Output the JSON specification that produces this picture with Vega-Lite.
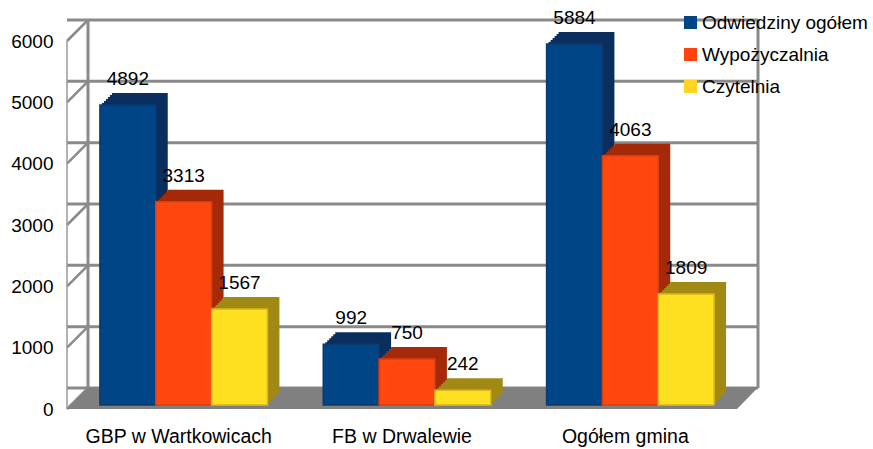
{"$schema":"https://vega.github.io/schema/vega-lite/v6.json","width":670,"height":368,"autosize":"none","padding":{"left":67,"top":41,"right":136,"bottom":40},"background":"white","config":{"view":{"stroke":null},"font":"Liberation Sans","numberFormat":"d","axis":{"grid":false},"axisY":{"tickCount":7,"ticks":false,"domain":false,"labelFontSize":19,"labelColor":"#000","labelPadding":14,"labelFont":"Liberation Sans"}},"datasets":{"bars":[{"miejsce":"GBP w Wartkowicach","seria":"Odwiedziny ogółem","v":4892},{"miejsce":"GBP w Wartkowicach","seria":"Wypożyczalnia","v":3313},{"miejsce":"GBP w Wartkowicach","seria":"Czytelnia","v":1567},{"miejsce":"FB w Drwalewie","seria":"Odwiedziny ogółem","v":992},{"miejsce":"FB w Drwalewie","seria":"Wypożyczalnia","v":750},{"miejsce":"FB w Drwalewie","seria":"Czytelnia","v":242},{"miejsce":"Ogółem gmina","seria":"Odwiedziny ogółem","v":5884},{"miejsce":"Ogółem gmina","seria":"Wypożyczalnia","v":4063},{"miejsce":"Ogółem gmina","seria":"Czytelnia","v":1809}],"ticks":[{"t":0},{"t":1000},{"t":2000},{"t":3000},{"t":4000},{"t":5000},{"t":6000}]},"layer":[{"layer":[{"data":{"name":"ticks"},"encoding":{"y":{"field":"t","type":"quantitative","title":null,"scale":{"domain":[0,6000],"nice":false}}},"mark":{"type":"rule","color":"#8a8a8a","strokeWidth":3,"xOffset":21,"x2Offset":21,"yOffset":-21,"y2Offset":-21}},{"data":{"values":[{"t":0,"d":0,"d2":21},{"t":1000,"d":0,"d2":21},{"t":2000,"d":0,"d2":21},{"t":3000,"d":0,"d2":21},{"t":4000,"d":0,"d2":21},{"t":5000,"d":0,"d2":21},{"t":6000,"d":0,"d2":21}]},"encoding":{"x":{"field":"d","type":"quantitative","scale":{"domain":[0,670],"nice":false},"axis":null},"x2":{"field":"d2"},"y":{"field":"t","type":"quantitative","title":null},"y2":{"field":"t"}},"mark":{"type":"rule","color":"#8a8a8a","strokeWidth":2.5,"y2Offset":-21}},{"data":{"values":[{"d":21,"a":0,"b":6000},{"d":691,"a":0,"b":6000}]},"encoding":{"x":{"field":"d","type":"quantitative","axis":null},"y":{"field":"a","type":"quantitative","title":null},"y2":{"field":"b"}},"mark":{"type":"rule","color":"#8a8a8a","strokeWidth":3,"yOffset":-21,"y2Offset":-21}},{"data":{"values":[{"d":0,"a":0,"b":6000}]},"encoding":{"x":{"field":"d","type":"quantitative","axis":null},"y":{"field":"a","type":"quantitative","title":null},"y2":{"field":"b"}},"mark":{"type":"rule","color":"#9a9a9a","strokeWidth":1.5}},{"data":{"values":[{"d":0,"lo":0,"hi":0},{"d":21,"lo":0,"hi":350},{"d":670,"lo":0,"hi":350},{"d":691,"lo":350,"hi":350}]},"encoding":{"x":{"field":"d","type":"quantitative","axis":null},"y":{"field":"lo","type":"quantitative","title":null},"y2":{"field":"hi"}},"mark":{"type":"area","color":"#808080","interpolate":"linear"}}]},{"data":{"name":"bars"},"transform":[{"calculate":"datum.miejsce + ' / ' + datum.seria","as":"slot"}],"encoding":{"x":{"field":"slot","type":"nominal","scale":{"domain":["GBP w Wartkowicach / Odwiedziny ogółem","GBP w Wartkowicach / Wypożyczalnia","GBP w Wartkowicach / Czytelnia","odstęp 1","FB w Drwalewie / Odwiedziny ogółem","FB w Drwalewie / Wypożyczalnia","FB w Drwalewie / Czytelnia","odstęp 2","Ogółem gmina / Odwiedziny ogółem","Ogółem gmina / Wypożyczalnia","Ogółem gmina / Czytelnia"],"paddingInner":0,"paddingOuter":0.5},"axis":{"title":null,"values":["GBP w Wartkowicach / Wypożyczalnia","FB w Drwalewie / Wypożyczalnia","Ogółem gmina / Wypożyczalnia"],"labelExpr":"split(datum.label,' / ')[0]","labelAngle":0,"ticks":false,"domain":false,"labelFontSize":19.5,"labelColor":"#000","labelPadding":18,"labelLimit":300,"labelOverlap":false,"labelFont":"Liberation Sans"}},"y":{"field":"v","type":"quantitative","title":null}},"layer":[{"transform":[{"filter":"datum.seria==='Odwiedziny ogółem'"}],"layer":[{"mark":{"type":"bar","color":"#0a2f5e","xOffset":17,"x2Offset":17,"yOffset":-16,"y2Offset":-16}},{"mark":{"type":"bar","color":"#0a2f5e","xOffset":15,"x2Offset":15,"yOffset":-14,"y2Offset":-14}},{"mark":{"type":"bar","color":"#0a2f5e","xOffset":13,"x2Offset":13,"yOffset":-12,"y2Offset":-12}},{"mark":{"type":"bar","color":"#0a2f5e","xOffset":11,"x2Offset":11,"yOffset":-10,"y2Offset":-10}},{"mark":{"type":"bar","color":"#0a2f5e","xOffset":9,"x2Offset":9,"yOffset":-8,"y2Offset":-8}},{"mark":{"type":"bar","color":"#0a2f5e","xOffset":7,"x2Offset":7,"yOffset":-6,"y2Offset":-6}},{"mark":{"type":"bar","xOffset":5,"x2Offset":5,"yOffset":-4,"y2Offset":-4,"stroke":"#0b3a70","strokeWidth":1.5},"encoding":{"color":{"field":"seria","type":"nominal","scale":{"domain":["Odwiedziny ogółem","Wypożyczalnia","Czytelnia"],"range":["#004586","#ff420e","#ffd320"]},"legend":{"title":null,"orient":"none","legendX":614,"legendY":-28,"symbolType":"square","symbolSize":169,"symbolStrokeWidth":0,"labelFontSize":19,"labelColor":"#000","labelOffset":2,"rowPadding":12,"labelFont":"Liberation Sans","labelLimit":300,"padding":0}}}}]},{"transform":[{"filter":"datum.seria==='Wypożyczalnia'"}],"layer":[{"mark":{"type":"bar","color":"#a52a0a","xOffset":17,"x2Offset":17,"yOffset":-16,"y2Offset":-16}},{"mark":{"type":"bar","color":"#a52a0a","xOffset":15,"x2Offset":15,"yOffset":-14,"y2Offset":-14}},{"mark":{"type":"bar","color":"#a52a0a","xOffset":13,"x2Offset":13,"yOffset":-12,"y2Offset":-12}},{"mark":{"type":"bar","color":"#a52a0a","xOffset":11,"x2Offset":11,"yOffset":-10,"y2Offset":-10}},{"mark":{"type":"bar","color":"#a52a0a","xOffset":9,"x2Offset":9,"yOffset":-8,"y2Offset":-8}},{"mark":{"type":"bar","color":"#a52a0a","xOffset":7,"x2Offset":7,"yOffset":-6,"y2Offset":-6}},{"mark":{"type":"bar","color":"#ff470f","xOffset":5,"x2Offset":5,"yOffset":-4,"y2Offset":-4,"stroke":"#d8400e","strokeWidth":1.5}}]},{"transform":[{"filter":"datum.seria==='Czytelnia'"}],"layer":[{"mark":{"type":"bar","color":"#a08a14","xOffset":17,"x2Offset":17,"yOffset":-16,"y2Offset":-16}},{"mark":{"type":"bar","color":"#a08a14","xOffset":15,"x2Offset":15,"yOffset":-14,"y2Offset":-14}},{"mark":{"type":"bar","color":"#a08a14","xOffset":13,"x2Offset":13,"yOffset":-12,"y2Offset":-12}},{"mark":{"type":"bar","color":"#a08a14","xOffset":11,"x2Offset":11,"yOffset":-10,"y2Offset":-10}},{"mark":{"type":"bar","color":"#a08a14","xOffset":9,"x2Offset":9,"yOffset":-8,"y2Offset":-8}},{"mark":{"type":"bar","color":"#a08a14","xOffset":7,"x2Offset":7,"yOffset":-6,"y2Offset":-6}},{"mark":{"type":"bar","color":"#ffe020","xOffset":5,"x2Offset":5,"yOffset":-4,"y2Offset":-4,"stroke":"#d8b81c","strokeWidth":1.5}}]},{"mark":{"type":"text","fontSize":19,"color":"#000","baseline":"bottom","dy":-20,"dx":5},"encoding":{"text":{"field":"v","type":"quantitative","format":"d"}}}]}],"resolve":{"scale":{"x":"independent"}}}
